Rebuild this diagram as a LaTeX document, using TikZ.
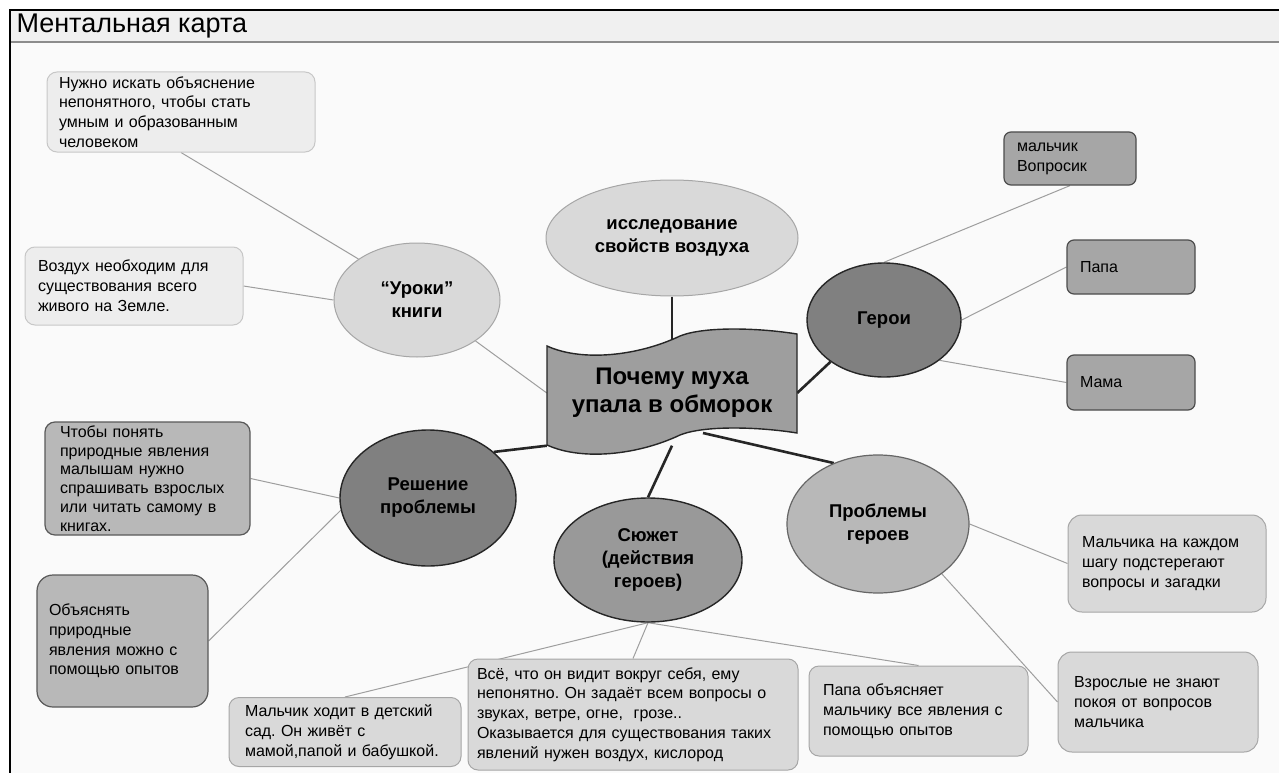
\documentclass[tikz,border=0pt]{standalone}
\usepackage{fontspec}
\setmainfont{Liberation Sans}
\usetikzlibrary{shapes.geometric}
\pgfdeclarelayer{back}
\pgfdeclarelayer{links}
\pgfsetlayers{back,links,main}
\frenchspacing
\newcommand{\palegrey}{black!7}
\newcommand{\lightgrey}{black!15}
\newcommand{\midgrey}{black!28}
\newcommand{\stonegrey}{black!35}
\newcommand{\bannergrey}{black!38}
\newcommand{\plotgrey}{black!40}
\newcommand{\darkgrey}{black!50}
\tikzset{
    link/.style = { line width=2.6pt,black!85, },
    twig/.style = { line width=1pt,black!38, },
    faint/.style = { draw=black!35,line width=1pt, },
    inked/.style = { draw=black!85,line width=1.4pt, },
    bubble/.style = { ellipse,inner sep=0,align=center,font=\bfseries\fontsize{18.5}{23}\selectfont, },
    note/.style = { rectangle,rounded corners=10pt,inner xsep=13pt,inner ysep=0,align=left,font=\fontsize{16}{19.8}\selectfont, },
    paper/.style = { note,fill=\palegrey,draw=black!22,line width=1pt, },
    sheet/.style = { note,fill=\lightgrey,draw=black!35,line width=1pt, },
    slate/.style = { note,fill=\midgrey,draw=black!65,line width=1.2pt, },
    tag/.style = { note,fill=\stonegrey,draw=black!70,line width=1.2pt,rounded corners=7pt, },
}
\newcommand{\leaf}[6]{
    \node [#5,text width=#3,minimum height=#4] (#1) at (#2) {#6};
}

\begin{document}
\begin{tikzpicture}[x=1pt,y=-1pt]

    \useasboundingbox (0,0) rectangle (1279,773);

    \begin{pgfonlayer}{back}
        \fill [black!2] (10,42) rectangle (1279,773);
        \fill [black!6] (10,10) rectangle (1279,42);
        \draw [black!45,line width=1.2pt] (10,42) -- (1279,42);
        \draw [line width=2.2pt] (1279,10) -- (10,10) -- (10,773);
    \end{pgfonlayer}

    \node [anchor=base west,font=\fontsize{27}{32}\selectfont] (title) at (13,33) {Ментальная карта};

    \draw [inked,fill=\bannergrey] (547,346) .. controls (582,362) and (638,356) .. (680,336)
        .. controls (705,326) and (760,328) .. (797,334) -- (797,433)
        .. controls (760,427) and (705,425) .. (680,435)
        .. controls (638,455) and (582,461) .. (547,445) -- cycle;
    \node [rectangle,minimum width=250,minimum height=105,align=center,
        font=\bfseries\fontsize{24}{28}\selectfont] (banner) at (672,393) {Почему муха\\упала в обморок};
    \coordinate (wave) at (703,433);

    \node [bubble,faint,fill=\lightgrey,minimum width=252,minimum height=116] (issl) at (672,238) {исследование\\свойств воздуха};
    \node [bubble,faint,fill=\lightgrey,minimum width=166,minimum height=114] (uroki) at (417,300) {“Уроки”\\книги};
    \node [bubble,inked,fill=\darkgrey,minimum width=154,minimum height=114] (geroi) at (884,320) {Герои};
    \node [bubble,inked,fill=\darkgrey,minimum width=176,minimum height=136] (reshenie) at (428,498) {Решение\\проблемы};
    \node [bubble,inked,fill=\plotgrey,minimum width=188,minimum height=124] (sjuzhet) at (648,560) {Сюжет\\(действия\\героев)};
    \node [bubble,draw=black!60,line width=1.2pt,fill=\midgrey,minimum width=182,minimum height=138] (probl) at (878,524) {Проблемы\\героев};

    \leaf{boxA}{181,112}{244}{80}{paper,inner xsep=12pt}{Нужно искать объяснение\\непонятного, чтобы стать\\умным и образованным\\человеком}
    \leaf{boxB}{134,286}{192}{78}{paper}{Воздух необходим для\\существования всего\\живого на Земле.}
    \leaf{boxC}{147.5,478.5}{175}{113}{slate,inner xsep=15pt,font=\fontsize{16}{18.8}\selectfont}{Чтобы понять\\природные явления\\малышам нужно\\спрашивать взрослых\\или читать самому в\\книгах.}
    \leaf{boxD}{122.5,641}{147}{132}{slate,inner xsep=12pt,rounded corners=16pt}{Объяснять\\природные\\явления можно с\\помощью опытов}
    \leaf{boxE}{345,732}{200}{69}{sheet,inner xsep=16pt}{Мальчик ходит в детский\\сад. Он живёт с\\мамой,папой и бабушкой.}
    \leaf{boxF}{633,714.5}{312}{111}{sheet,inner xsep=9pt}{Всё, что он видит вокруг себя, ему\\непонятно. Он задаёт всем вопросы о\\звуках, ветре, огне,\ \ грозе..\\Оказывается для существования таких\\явлений нужен воздух, кислород}
    \leaf{boxG}{918.5,711}{191}{90}{sheet,inner xsep=14pt}{Папа объясняет\\мальчику все явления с\\помощью опытов}
    \leaf{boxH}{1167,563.5}{170}{97}{sheet,inner xsep=14pt,rounded corners=14pt}{Мальчика на каждом\\шагу подстерегают\\вопросы и загадки}
    \leaf{boxI}{1158,702}{168}{100}{sheet,inner xsep=16pt,rounded corners=14pt}{Взрослые не знают\\покоя от вопросов\\мальчика}
    \leaf{vopr}{1070,158.5}{106}{53}{tag}{мальчик\\Вопросик}
    \leaf{papa}{1131,267}{102}{54}{tag}{Папа}
    \leaf{mama}{1131,382.5}{102}{55}{tag}{Мама}

    \begin{pgfonlayer}{links}
        \draw [link] (issl.south) -- (banner.north);
        \draw [link] (geroi.218) -- (banner.east);
        \draw [link] (reshenie.35) -- (banner.south west);
        \draw [link] (sjuzhet.north) -- (banner.south);
        \draw [link] (probl.126) -- (wave);
        \draw [twig] (uroki.-35) -- (banner.west);

        \draw [twig] (uroki.145) -- (boxA.south);
        \draw [twig] (uroki.west) -- (boxB.east);
        \draw [twig] (reshenie.west) -- (boxC.east);
        \draw [twig] (reshenie.188) -- (boxD.east);
        \draw [twig] (geroi.north) -- (vopr.south);
        \draw [twig] (geroi.east) -- (papa.west);
        \draw [twig] (geroi.-36) -- (mama.west);
        \draw [twig] (sjuzhet.south) -- (boxE.north);
        \draw [twig] (sjuzhet.south) -- (boxF.north);
        \draw [twig] (sjuzhet.south) -- (boxG.north);
        \draw [twig] (probl.east) -- (boxH.west);
        \draw [twig] (probl.-38) -- (boxI.west);
    \end{pgfonlayer}

\end{tikzpicture}
\end{document}
